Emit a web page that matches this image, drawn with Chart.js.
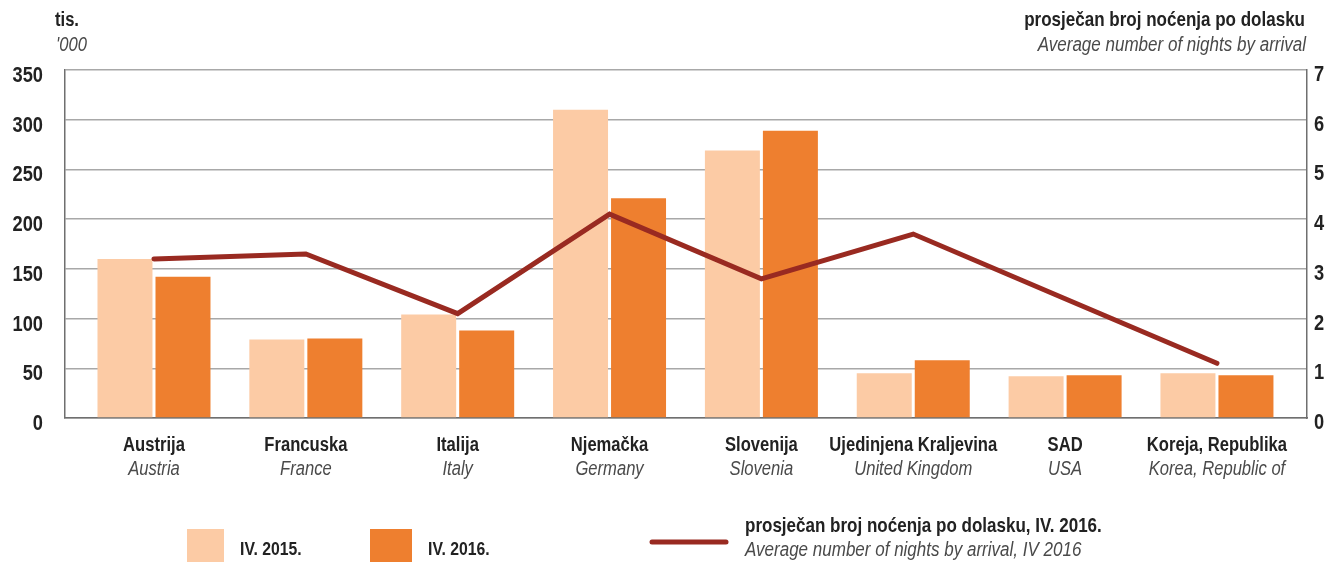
<!DOCTYPE html>
<html>
<head>
<meta charset="utf-8">
<script src="https://cdn.jsdelivr.net/npm/chart.js@4.4.1/dist/chart.umd.min.js"></script>
<style>
  html, body { margin: 0; padding: 0; background: #fff; }
  #wrap { width: 1340px; height: 562px; position: relative; }
</style>
</head>
<body>
<div id="wrap"><canvas id="chart"></canvas></div>
<script>
// kategorije (hrvatski / engleski)
const countries = ['Austrija', 'Francuska', 'Italija', 'Njemačka', 'Slovenija', 'Ujedinjena Kraljevina', 'SAD', 'Koreja, Republika'];
const countriesEn = ['Austria', 'France', 'Italy', 'Germany', 'Slovenia', 'United Kingdom', 'USA', 'Korea, Republic of'];

// noćenja, tis.
const nights2015 = [160, 79, 104, 310, 269, 45, 42, 45];
const nights2016 = [142, 80, 88, 221, 289, 58, 43, 43];
// prosječan broj noćenja po dolasku, IV. 2016.
const avgNights = [3.2, 3.3, 2.1, 4.1, 2.8, 3.7, 2.4, 1.1];

const leftTicks = [0, 50, 100, 150, 200, 250, 300, 350];
const rightTicks = [0, 1, 2, 3, 4, 5, 6, 7];

const FONT = "'Liberation Sans', Arial, sans-serif";
const NARROW = 0.83; // uski font kao u izvorniku
const C_LIGHT = '#fccba5';
const C_DARK = '#ee7f2f';
const C_LINE = '#992a21';

const toPoints = arr => arr.map((v, i) => ({ x: i, y: v }));

function text(ctx, str, x, y, style, color, align) {
  ctx.save();
  ctx.translate(x, y);
  ctx.scale(NARROW, 1);
  ctx.font = style + ' ' + FONT;
  ctx.fillStyle = color;
  ctx.textAlign = align;
  ctx.textBaseline = 'middle';
  ctx.fillText(str, 0, 0);
  ctx.restore();
}

// natpisi osi, kategorija, naslovi i legenda
const textPlugin = {
  id: 'texts',
  afterDraw(chart) {
    const ctx = chart.ctx;
    const { x: xs, y: ys, y2: ys2 } = chart.scales;

    ys.ticks.forEach(t => text(ctx, String(t.value), 43, ys.getPixelForValue(t.value) + 6, 'bold 22px', '#222', 'right'));
    ys2.ticks.forEach(t => text(ctx, String(t.value), 1314, ys2.getPixelForValue(t.value) + 5, 'bold 22px', '#222', 'left'));

    countries.forEach((c, i) => {
      const px = xs.getPixelForValue(i);
      text(ctx, c, px, 445, 'bold 20px', '#222', 'center');
      text(ctx, countriesEn[i], px, 469, 'italic 20px', '#4a4a4a', 'center');
    });

    text(ctx, 'tis.', 55, 20, 'bold 20px', '#222', 'left');
    text(ctx, "'000", 56, 45, 'italic 20px', '#4a4a4a', 'left');
    text(ctx, 'prosječan broj noćenja po dolasku', 1305, 20, 'bold 20.5px', '#222', 'right');
    text(ctx, 'Average number of nights by arrival', 1306, 45, 'italic 20.5px', '#4a4a4a', 'right');

    // legenda
    const ds = chart.data.datasets;
    ctx.save();
    ctx.fillStyle = ds[0].backgroundColor;
    ctx.fillRect(187, 529, 37, 34);
    ctx.fillStyle = ds[1].backgroundColor;
    ctx.fillRect(370, 529, 42, 34);
    ctx.strokeStyle = ds[2].borderColor;
    ctx.lineWidth = 5;
    ctx.lineCap = 'round';
    ctx.beginPath();
    ctx.moveTo(652, 542);
    ctx.lineTo(726, 542);
    ctx.stroke();
    ctx.restore();
    text(ctx, ds[0].label, 240, 550, 'bold 19px', '#222', 'left');
    text(ctx, ds[1].label, 428, 550, 'bold 19px', '#222', 'left');
    text(ctx, ds[2].label + ', IV. 2016.', 745, 526, 'bold 20.5px', '#222', 'left');
    text(ctx, 'Average number of nights by arrival, IV 2016', 745, 550, 'italic 20.5px', '#4a4a4a', 'left');
  }
};

new Chart(document.getElementById('chart'), {
  data: {
    datasets: [
      {
        type: 'bar',
        label: 'IV. 2015.',
        data: toPoints(nights2015),
        backgroundColor: C_LIGHT,
        yAxisID: 'y',
        order: 2,
        categoryPercentage: 0.764,
        barPercentage: 0.948
      },
      {
        type: 'bar',
        label: 'IV. 2016.',
        data: toPoints(nights2016),
        backgroundColor: C_DARK,
        yAxisID: 'y',
        order: 2,
        categoryPercentage: 0.764,
        barPercentage: 0.948
      },
      {
        type: 'line',
        label: 'prosječan broj noćenja po dolasku',
        data: toPoints(avgNights),
        borderColor: C_LINE,
        backgroundColor: C_LINE,
        borderWidth: 5,
        borderCapStyle: 'round',
        borderJoinStyle: 'miter',
        pointRadius: 0,
        tension: 0,
        yAxisID: 'y2',
        order: 1
      }
    ]
  },
  options: {
    responsive: true,
    maintainAspectRatio: false,
    animation: false,
    layout: { padding: { left: 0, right: 0, top: 70, bottom: 144 } },
    plugins: {
      legend: { display: false },
      tooltip: { enabled: false }
    },
    scales: {
      x: {
        type: 'linear',
        offset: false,
        min: -0.586,
        max: 7.593,
        afterBuildTicks: s => { s.ticks = countries.map((c, i) => ({ value: i })); },
        ticks: { display: false },
        grid: { display: false, drawTicks: false },
        border: { display: true, color: '#6f6f6f', width: 1.5 },
        afterFit: s => { s.height = 0; }
      },
      y: {
        position: 'left',
        min: 0,
        max: 350,
        afterBuildTicks: s => { s.ticks = leftTicks.map(v => ({ value: v })); },
        ticks: { display: false },
        grid: { color: '#a8a8a8', lineWidth: 1.5, drawTicks: false },
        border: { display: true, color: '#6f6f6f', width: 1.5 },
        afterFit: s => { s.width = 65; }
      },
      y2: {
        position: 'right',
        min: 0,
        max: 7,
        afterBuildTicks: s => { s.ticks = rightTicks.map(v => ({ value: v })); },
        ticks: { display: false },
        grid: { display: false, drawTicks: false },
        border: { display: true, color: '#6f6f6f', width: 1.5 },
        afterFit: s => { s.width = 33; }
      }
    }
  },
  plugins: [textPlugin]
});
</script>
</body>
</html>
